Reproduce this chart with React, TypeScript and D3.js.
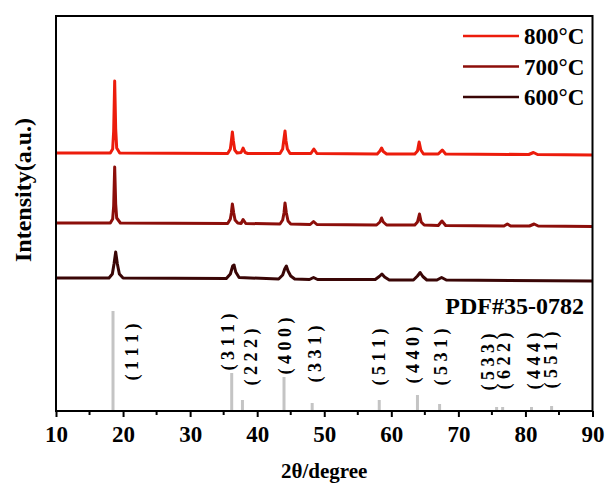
import { useEffect, useRef } from 'react';
import * as d3 from 'd3';

// XRD patterns, [2theta, intensity] (arbitrary units, stacked)
const series800: [number, number][] = [
  [10, 258], [18.1, 258], [18.45, 262], [18.6, 280], [18.75, 330], [18.9, 282], [19.05, 263], [19.5, 258],
  [35.6, 257.5], [36.0, 262], [36.15, 270], [36.3, 279], [36.45, 270], [36.65, 261], [37.0, 258],
  [37.6, 258.5], [37.9, 263], [38.2, 258.5], [38.6, 257.5],
  [43.4, 257.5], [43.8, 262], [43.95, 270], [44.15, 280], [44.3, 270], [44.5, 262], [44.9, 257.5],
  [48.0, 257.5], [48.45, 262], [48.9, 257.5],
  [57.9, 257], [58.3, 260], [58.55, 263], [58.8, 259.5], [59.3, 257],
  [63.5, 257], [63.9, 260], [64.15, 269], [64.4, 261], [64.8, 257],
  [67.0, 257], [67.6, 261], [68.1, 257],
  [80.5, 256.5], [81.2, 258.5], [81.8, 256.5],
  [90, 256],
];

const series700: [number, number][] = [
  [10, 188], [18.1, 188], [18.45, 192], [18.6, 205], [18.75, 244], [18.9, 207], [19.05, 193], [19.6, 188],
  [35.6, 187.5], [36.0, 192], [36.15, 198], [36.3, 207], [36.5, 198], [36.7, 191], [37.1, 188],
  [37.6, 187.5], [37.9, 191.5], [38.3, 187.5],
  [43.4, 187], [43.8, 191], [44.0, 198], [44.15, 208], [44.35, 198], [44.6, 190], [45.0, 187],
  [47.9, 186.5], [48.4, 189.5], [48.9, 186.5],
  [57.8, 186], [58.3, 189], [58.55, 193], [58.8, 189], [59.3, 186],
  [63.5, 186], [63.9, 189], [64.2, 197], [64.45, 189], [64.9, 186],
  [67.0, 185.5], [67.55, 190], [68.1, 185.5],
  [76.8, 185], [77.3, 187], [77.8, 185],
  [80.6, 185], [81.3, 187], [81.9, 185],
  [90, 184.5],
];

const series600: [number, number][] = [
  [10, 133], [17.9, 133], [18.4, 137], [18.65, 147], [18.9, 159], [19.15, 147], [19.45, 137], [20.0, 133],
  [35.4, 132.5], [36.0, 137], [36.35, 145], [36.55, 146], [36.8, 139], [37.3, 133.5],
  [43.2, 132], [43.8, 136], [44.1, 142], [44.35, 145], [44.6, 140], [45.0, 135], [45.6, 132],
  [47.8, 131.5], [48.4, 133.5], [49.0, 131.5],
  [57.6, 131.5], [58.2, 134.5], [58.6, 137], [59.0, 134], [59.7, 131],
  [63.3, 131], [63.9, 135], [64.3, 138.5], [64.7, 134.5], [65.3, 131],
  [66.8, 131], [67.5, 133.5], [68.2, 131],
  [90, 130],
];

const seriesNames = ['800°C', '700°C', '600°C'];
const seriesColors = ['#ec1c0c', '#8c0e0a', '#3a0606'];

// PDF#35-0782 reference lines
const refPos = [18.5, 36.2, 37.8, 44.0, 48.2, 58.2, 63.9, 67.2, 75.7, 76.6, 80.9, 83.9];
const refInt = [100, 38, 11, 34, 8, 11, 16, 7, 4, 4, 4, 5];
const refHkl = ['1 1 1', '3 1 1', '2 2 2', '4 0 0', '3 3 1', '5 1 1', '4 4 0', '5 3 1', '5 3 3', '6 2 2', '4 4 4', '5 5 1'];

const xTicks = [10, 20, 30, 40, 50, 60, 70, 80, 90];

export default function App() {
  const svgRef = useRef<SVGSVGElement>(null);

  useEffect(() => {
    if (!svgRef.current) return;
    const svg = d3.select(svgRef.current);
    svg.selectAll('*').remove();

    const left = 56, right = 592.5, top = 16, bottom = 411;
    const font = "'Liberation Serif', 'Times New Roman', serif";

    const x = d3.scaleLinear().domain([10, 90]).range([left, right]);
    const y = d3.scaleLinear().domain([0, 395]).range([bottom, top]);
    // reference sticks use their own scale (100% -> ~100px)
    const yRef = d3.scaleLinear().domain([0, 100]).range([bottom, bottom - 100]);

    const line = d3
      .line<[number, number]>()
      .x(d => x(d[0]))
      .y(d => y(d[1]));

    [series800, series700, series600].forEach((s, i) => {
      svg
        .append('path')
        .datum(s)
        .attr('d', line)
        .attr('fill', 'none')
        .attr('stroke', seriesColors[i])
        .attr('stroke-width', 3)
        .attr('stroke-linejoin', 'round');
    });

    // reference bars
    svg
      .selectAll('.ref')
      .data(refPos)
      .enter()
      .append('line')
      .attr('x1', d => x(d))
      .attr('x2', d => x(d))
      .attr('y1', bottom)
      .attr('y2', (d, i) => yRef(refInt[i]))
      .attr('stroke', '#c4c4c4')
      .attr('stroke-width', 3);

    // hkl labels: horizontal shift and vertical centre, tuned by eye
    const labelDx = [19, -4, 8, 1, 3, -1, -5, 1, -9, 1, 2, -1];
    const labelCy = [352, 342, 357, 346, 354, 357, 355, 357, 362, 361, 361, 360];
    refHkl.forEach((h, i) => {
      const lx = x(refPos[i]) + labelDx[i];
      svg
        .append('text')
        .attr('transform', `translate(${lx},${labelCy[i]}) rotate(-90)`)
        .attr('text-anchor', 'middle')
        .attr('dy', '0.35em')
        .attr('font-family', font)
        .attr('font-weight', 'bold')
        .attr('font-size', 18)
        .style('white-space', 'pre')
        .text(`( ${h} )`);
    });

    svg
      .append('text')
      .attr('x', 584)
      .attr('y', 314)
      .attr('text-anchor', 'end')
      .attr('font-family', font)
      .attr('font-weight', 'bold')
      .attr('font-size', 24)
      .text('PDF#35-0782');

    // frame
    svg
      .append('rect')
      .attr('x', left)
      .attr('y', top)
      .attr('width', right - left)
      .attr('height', bottom - top)
      .attr('fill', 'none')
      .attr('stroke', '#000')
      .attr('stroke-width', 2);

    // x axis ticks
    const axis = svg.append('g').attr('transform', `translate(0,${bottom})`);
    axis
      .call(d3.axisBottom(x).tickValues(xTicks).tickSize(6).tickPadding(9).tickFormat(d3.format('d')))
      .call(g => g.select('.domain').remove())
      .call(g => g.selectAll('line').attr('stroke', '#000').attr('stroke-width', 2))
      .call(g =>
        g
          .selectAll('text')
          .attr('font-family', font)
          .attr('font-weight', 'bold')
          .attr('font-size', 23)
          .attr('fill', '#000')
      );
    axis
      .selectAll('.minor')
      .data(d3.range(15, 90, 10))
      .enter()
      .append('line')
      .attr('x1', d => x(d))
      .attr('x2', d => x(d))
      .attr('y1', 0)
      .attr('y2', 4)
      .attr('stroke', '#000')
      .attr('stroke-width', 2);

    svg
      .append('text')
      .attr('x', (left + right) / 2)
      .attr('y', 478)
      .attr('text-anchor', 'middle')
      .attr('font-family', font)
      .attr('font-weight', 'bold')
      .attr('font-size', 21)
      .text('2θ/degree');

    svg
      .append('text')
      .attr('transform', 'translate(31,190) rotate(-90)')
      .attr('text-anchor', 'middle')
      .attr('font-family', font)
      .attr('font-weight', 'bold')
      .attr('font-size', 24)
      .text('Intensity(a.u.)');

    // legend
    const legend = svg.append('g');
    seriesNames.forEach((name, i) => {
      const ly = 36 + i * 30.5;
      legend
        .append('line')
        .attr('x1', 463)
        .attr('x2', 519)
        .attr('y1', ly)
        .attr('y2', ly)
        .attr('stroke', seriesColors[i])
        .attr('stroke-width', 2.5);
      legend
        .append('text')
        .attr('x', 524)
        .attr('y', ly)
        .attr('dy', '0.35em')
        .attr('font-family', font)
        .attr('font-weight', 'bold')
        .attr('font-size', 23)
        .text(name);
    });
  }, []);

  return (
    <svg
      ref={svgRef}
      width={606}
      height={486}
      style={{ position: 'absolute', left: 0, top: 0, background: '#fff' }}
    ></svg>
  );
}
